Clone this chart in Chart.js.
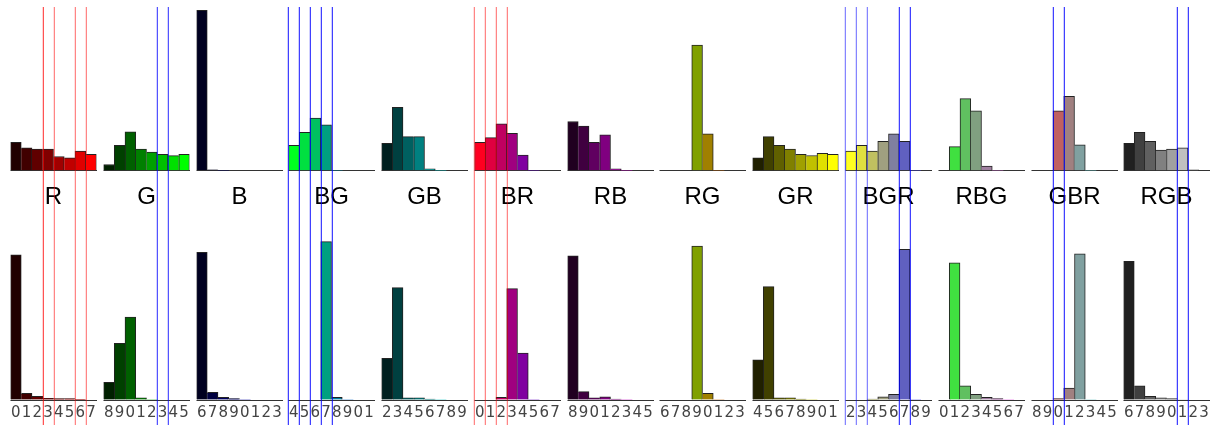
<!DOCTYPE html>
<html>
<head>
<meta charset="utf-8">
<title>Channel histograms</title>
<script src="https://cdn.jsdelivr.net/npm/chart.js@4.4.1/dist/chart.umd.min.js"></script>
<style>
  html, body { margin: 0; padding: 0; background: #fff; }
  #panels { position: absolute; left: 7px; top: 0; width: 1207px; height: 425px; }
  .cell { position: absolute; top: 0; width: 93px; height: 425px; }
</style>
</head>
<body>
<div id="panels"></div>
<script>
// panel titles and how each channel moves across the 8 bins (+ up, - down, 0 off)
var panelNames   = ['R', 'G', 'B', 'BG', 'GB', 'BR', 'RB', 'RG', 'GR', 'BGR', 'RBG', 'GBR', 'RGB'];
var channelRules = ['+00', '0+0', '00+', '0-+', '0++', '-0+', '+0+', '+-0', '++0', '--+', '+-+', '-++', '+++'];

var tickLabels = ['01234567', '89012345', '67890123', '45678901', '23456789',
                  '01234567', '89012345', '67890123', '45678901', '23456789',
                  '01234567', '89012345', '67890123'];

// upper row of histograms
var topValues = [
  [17.3, 14.0, 13.3, 13.3, 8.7, 7.9, 12.0, 10.0],
  [3.8, 15.5, 23.8, 13.3, 11.4, 10.0, 9.2, 10.0],
  [97.9, 0.6, 0, 0, 0, 0, 0, 0],
  [15.5, 23.4, 32.2, 28.1, 0, 0, 0, 0],
  [16.7, 38.7, 20.8, 20.8, 1.2, 0, 0, 0],
  [17.3, 20.2, 28.7, 22.8, 9.6, 0, 0, 0],
  [30.1, 27.3, 17.3, 22.0, 1.2, 0, 0, 0],
  [0, 0, 0, 76.8, 22.6, 0, 0, 0],
  [7.9, 20.8, 15.5, 13.3, 10.0, 9.3, 10.6, 10.0],
  [12.0, 15.5, 12.0, 17.9, 22.6, 17.9, 0, 0],
  [0, 14.7, 44.0, 36.6, 2.9, 0, 0, 0],
  [0, 0, 36.6, 45.4, 15.9, 0, 0, 0],
  [16.7, 23.4, 17.9, 12.6, 13.3, 14.0, 0.6, 0]
];

// lower row of histograms
var bottomValues = [
  [88.6, 4.1, 2.3, 1.0, 0.8, 0.8, 0.4, 0],
  [10.8, 34.6, 50.7, 1.4, 0, 0, 0, 0],
  [90.2, 4.7, 1.6, 0.8, 0, 0, 0, 0],
  [0, 0, 0, 96.7, 1.6, 0, 0, 0],
  [25.5, 68.6, 1.4, 1.4, 0.6, 0, 0, 0],
  [0, 0, 1.6, 68.0, 28.7, 0, 0, 0],
  [88.1, 5.1, 1.4, 2.0, 0.6, 0, 0, 0],
  [0, 0, 0, 94.0, 4.1, 0, 0, 0],
  [24.6, 69.2, 1.4, 1.4, 0.6, 0, 0, 0],
  [0, 0, 0.6, 2.0, 3.5, 92.0, 0, 0],
  [0, 83.8, 8.7, 3.5, 1.6, 0.8, 0, 0],
  [0, 0, 0.8, 7.3, 89.3, 0, 0, 0],
  [84.7, 8.7, 2.3, 1.4, 0.8, 0, 0, 0]
];

// marker lines: bin edge, how many times it is drawn, and its colour channel
var markerEdges   = [[3, 4, 6, 7], [5, 6], [], [0, 1, 2, 3, 4], [], [0, 1, 2, 3], [], [], [], [0, 1, 2, 5, 6], [], [2, 3], [5, 6]];
var markerWeights = [[2, 1, 1, 1], [2, 2], [], [3, 3, 3, 3, 3], [], [1, 1, 1, 1], [], [], [], [1, 1, 1, 3, 3], [], [3, 3], [3, 3]];
var markerChannel = ['R', 'B', '', 'B', '', 'R', '', '', '', 'B', '', 'B', 'B'];

var panelPitch = 92.78;

function binColors(rule) {
  var out = [];
  for (var i = 0; i < 8; i++) {
    var up = Math.min(255, 32 * (i + 1)), down = Math.min(255, 256 - 32 * i);
    var ch = rule.split('').map(function (r) { return r === '+' ? up : r === '-' ? down : 0; });
    out.push('rgb(' + ch.join(',') + ')');
  }
  return out;
}

// the taller of two neighbours owns the shared edge, so dividers stay 1px
function edgeWidth(ctx) {
  var d = ctx.dataset.data, i = ctx.dataIndex, v = d[i];
  var prev = i > 0 ? d[i - 1] : -1, next = i < d.length - 1 ? d[i + 1] : -1;
  return { top: 1, left: v >= prev ? 1 : 0, right: v > next ? 1 : 0, bottom: 0 };
}

function decorPlugin(c) {
  return {
    id: 'decor' + c,
    afterDraw: function (chart) {
      var ctx = chart.ctx, x = chart.scales.x, yTop = chart.scales.yTop;
      ctx.save();
      ctx.font = '24px "Liberation Sans", Arial, sans-serif';
      ctx.fillStyle = '#000';
      ctx.textAlign = 'center';
      ctx.textBaseline = 'middle';
      ctx.fillText(panelNames[c], (x.left + x.right) / 2, yTop.bottom + 27);
      ctx.lineWidth = 1;
      markerEdges[c].forEach(function (edge, k) {
        var px = Math.round(x.getPixelForValue(edge - 0.5)) + 0.3;
        var a = 1 - Math.pow(0.4, markerWeights[c][k]);
        ctx.strokeStyle = markerChannel[c] === 'R' ? 'rgba(255,0,0,' + a + ')' : 'rgba(0,0,255,' + a + ')';
        ctx.beginPath();
        ctx.moveTo(px, chart.chartArea.top);
        ctx.lineTo(px, chart.height);
        ctx.stroke();
      });
      ctx.restore();
    }
  };
}

function baseline(ctx) {
  return ctx.tick && ctx.tick.value === 0 ? '#333' : 'rgba(0,0,0,0)';
}

var holder = document.getElementById('panels');
panelNames.forEach(function (name, c) {
  var cell = document.createElement('div');
  cell.className = 'cell';
  cell.style.left = Math.round(c * panelPitch) + 'px';
  var canvas = document.createElement('canvas');
  cell.appendChild(canvas);
  holder.appendChild(cell);

  var barStyle = {
    backgroundColor: binColors(channelRules[c]),
    borderColor: '#222',
    borderWidth: edgeWidth,
    borderSkipped: false,
    grouped: false,
    barPercentage: 1,
    categoryPercentage: 1
  };

  new Chart(canvas, {
    type: 'bar',
    data: {
      labels: tickLabels[c].split(''),
      datasets: [
        Object.assign({ label: name + ' top', data: topValues[c], yAxisID: 'yTop' }, barStyle),
        Object.assign({ label: name + ' bottom', data: bottomValues[c], yAxisID: 'yBottom' }, barStyle)
      ]
    },
    options: {
      responsive: true,
      maintainAspectRatio: false,
      animation: false,
      layout: { padding: { top: 7, left: 2, right: 3, bottom: 0 } },
      plugins: { legend: { display: false }, tooltip: { enabled: false } },
      scales: {
        x: {
          grid: { display: false, drawTicks: false },
          border: { display: false },
          ticks: {
            autoSkip: false, maxRotation: 0, padding: 4,
            color: '#444',
            font: { family: '"DejaVu Sans", sans-serif', size: 15 }
          },
          afterFit: function (s) { s.height = 25; }
        },
        yTop: {
          position: 'right', stack: 'rows', stackWeight: 100,
          min: 0, max: 100,
          ticks: { display: false },
          grid: { drawTicks: false, color: baseline },
          border: { display: false }
        },
        yBottom: {
          position: 'right', stack: 'rows', stackWeight: 140,
          min: 0, max: 140,
          ticks: { display: false },
          grid: { drawTicks: false, color: baseline },
          border: { display: false }
        }
      }
    },
    plugins: [decorPlugin(c)]
  });
});
</script>
</body>
</html>
